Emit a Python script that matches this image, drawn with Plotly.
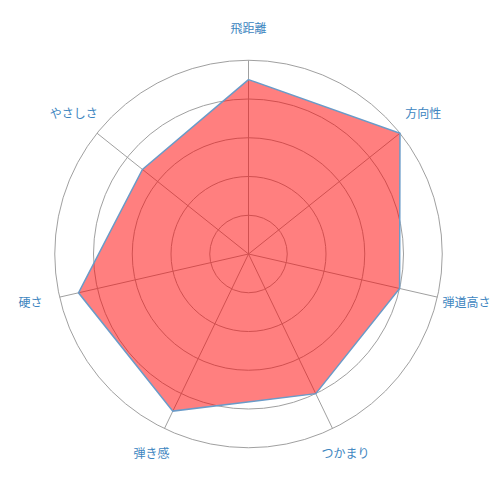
import plotly.graph_objects as go

# 評価項目と値（0〜5）
categories = ["飛距離", "方向性", "弾道高さ", "つかまり", "弾き感", "硬さ", "やさしさ"]
scores = [4.5, 5.0, 4.0, 4.0, 4.5, 4.5, 3.5]
rings = [1, 2, 3, 4, 5]

# 閉じた多角形にする
r_closed = scores + scores[:1]
theta_closed = categories + categories[:1]

R_MAX = 5        # 外周
LABEL_R = 5.77   # 項目名の位置（外周の少し外側）

# 放射状の線（外周まで）
spoke_r, spoke_theta = [], []
for c in categories:
    spoke_r += [0, R_MAX, None]
    spoke_theta += [c, c, None]

fig = go.Figure()

fig.add_trace(
    go.Scatterpolar(
        r=spoke_r,
        theta=spoke_theta,
        mode="lines",
        line=dict(color="#a0a0a0", width=1),
        hoverinfo="skip",
        showlegend=False,
    )
)

fig.add_trace(
    go.Scatterpolar(
        r=r_closed,
        theta=theta_closed,
        mode="lines",
        fill="toself",
        fillcolor="rgba(255,0,0,0.5)",
        line=dict(color="#6a9bc8", width=1.5),
        hoverinfo="skip",
        showlegend=False,
    )
)

fig.add_trace(
    go.Scatterpolar(
        r=[LABEL_R] * len(categories),
        theta=categories,
        mode="text",
        text=categories,
        textposition="middle center",
        textfont=dict(family="Noto Sans CJK JP", size=12, color="#3d85c0"),
        cliponaxis=False,
        hoverinfo="skip",
        showlegend=False,
    )
)

# ページ本体の余白(8px)を考慮してマージンを調整
fig.update_layout(
    width=500,
    height=500,
    margin=dict(l=8, r=27, t=13, b=21),
    paper_bgcolor="white",
    font=dict(family="Noto Sans CJK JP", size=12, color="#3d85c0"),
    polar=dict(
        bgcolor="rgba(0,0,0,0)",
        radialaxis=dict(
            range=[0, 6],
            tickvals=rings,
            showticklabels=False,
            showline=False,
            ticks="",
            gridcolor="#a0a0a0",
            gridwidth=1,
        ),
        angularaxis=dict(
            direction="clockwise",
            rotation=90,
            showgrid=False,
            showline=False,
            ticks="",
            showticklabels=False,
        ),
    ),
)

fig.write_html("out.html")
